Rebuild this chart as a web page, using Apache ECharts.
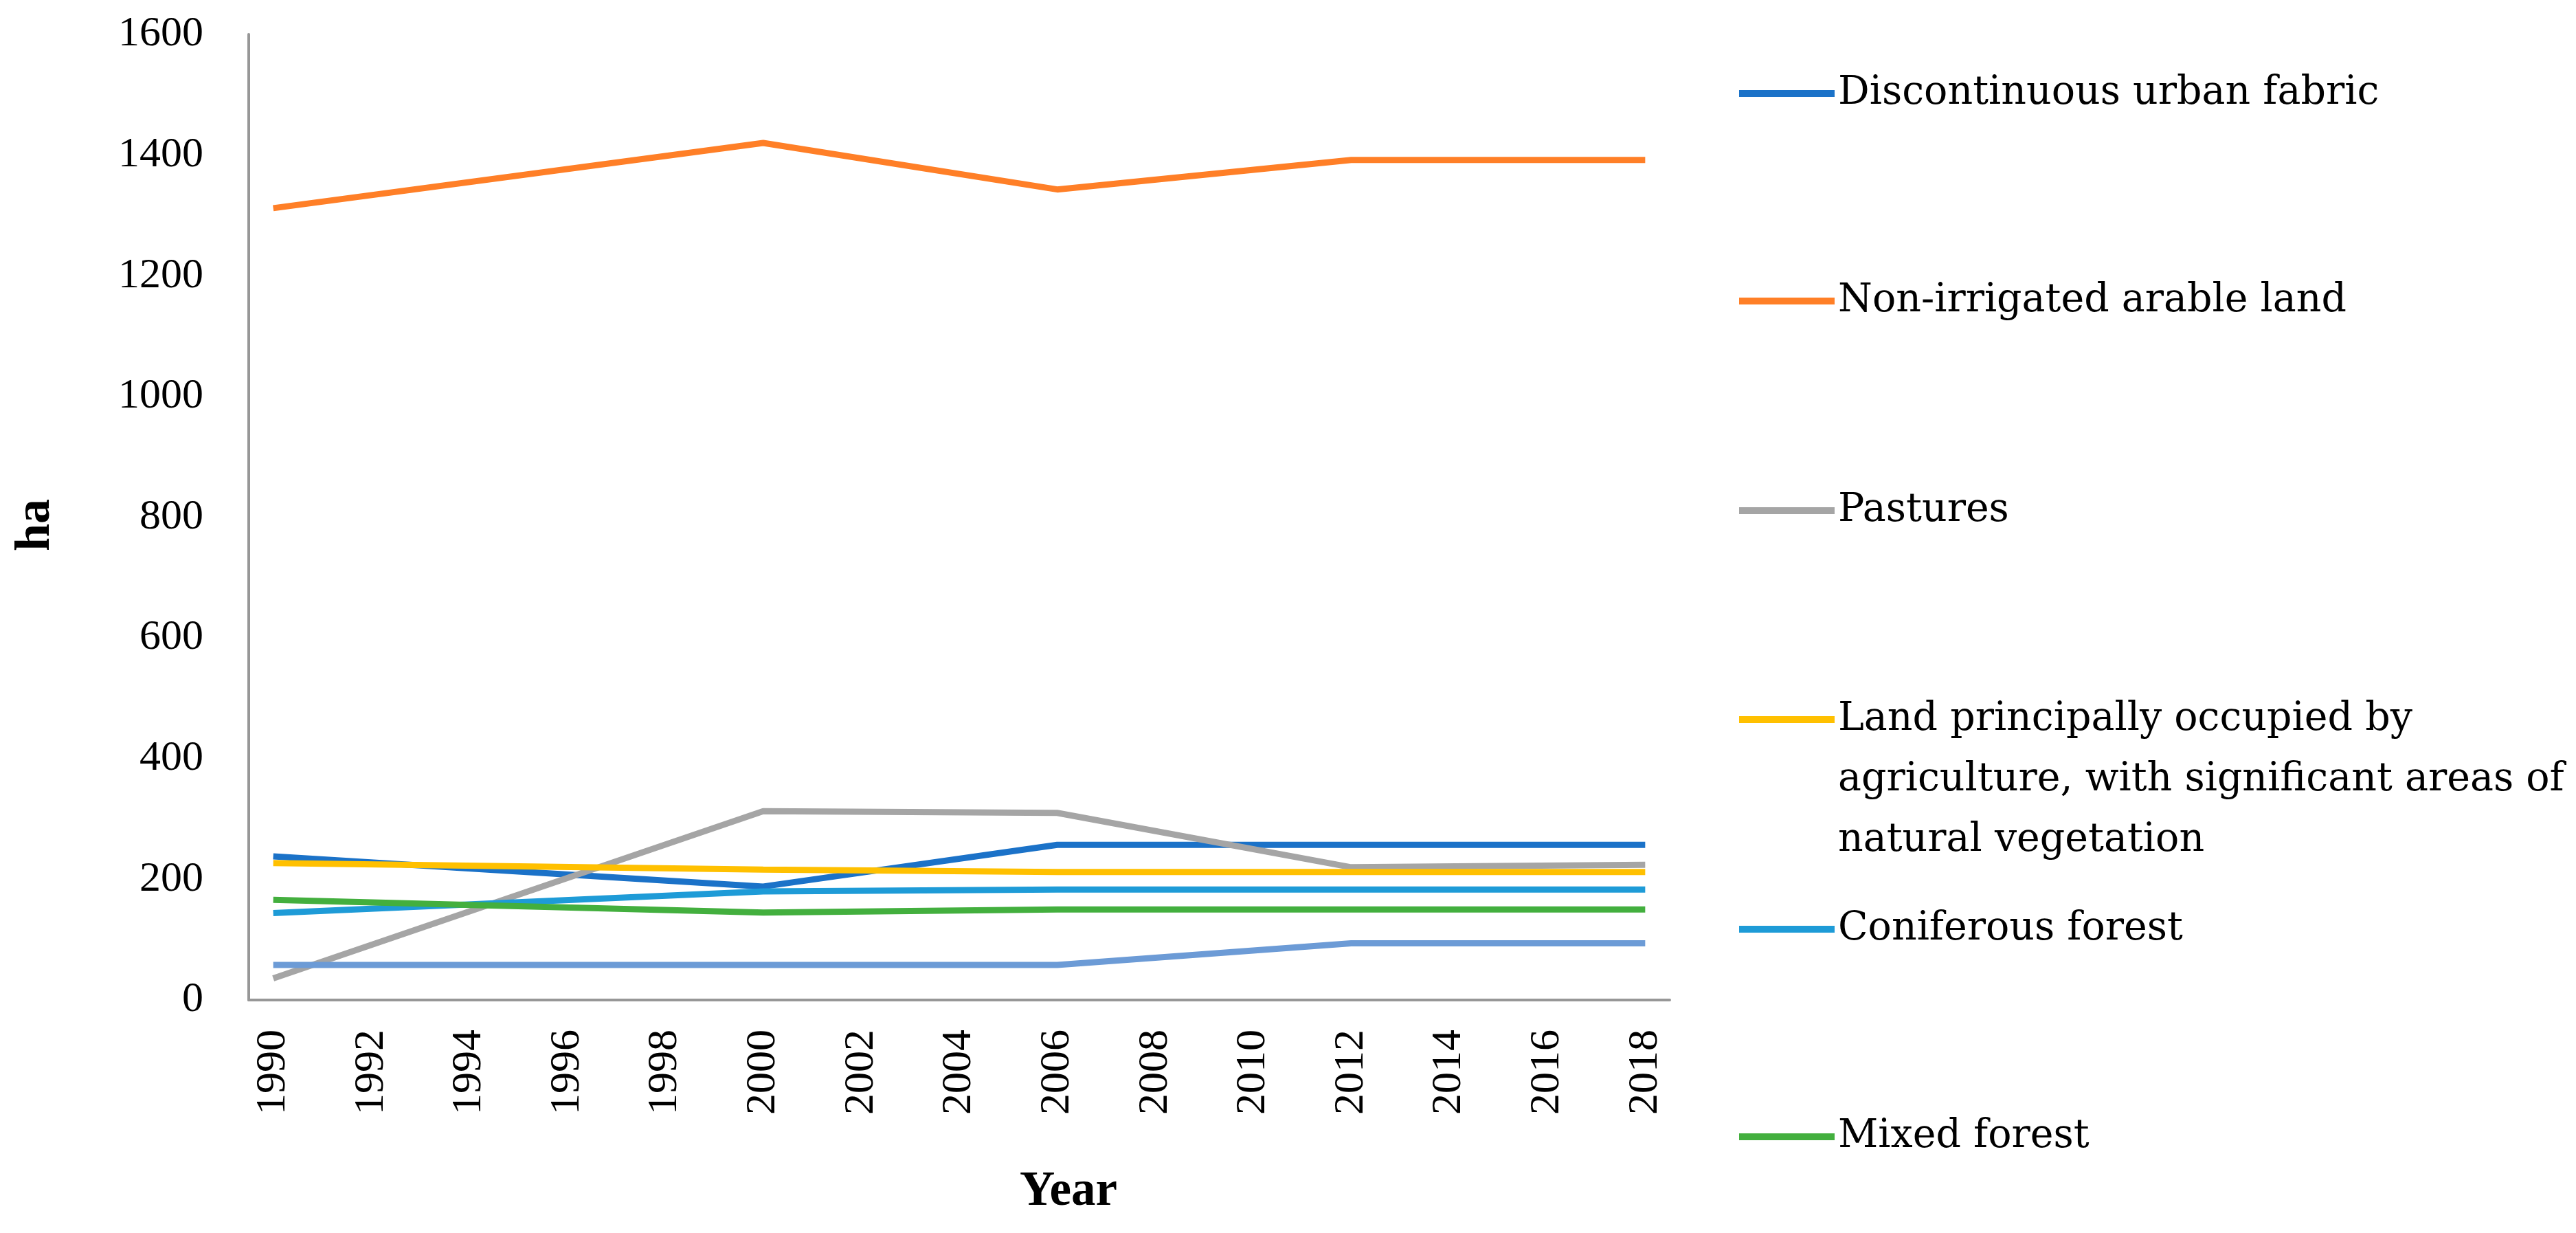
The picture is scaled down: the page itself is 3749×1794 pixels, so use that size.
<!DOCTYPE html>
<html>
<head>
<meta charset="utf-8">
<script src="https://cdn.jsdelivr.net/npm/echarts@6/dist/echarts.min.js"></script>
<style>
html,body{margin:0;padding:0;background:#fff;}
#chart{width:3749px;height:1794px;}
</style>
</head>
<body>
<div id="chart"></div>
<script>
// ---- Data ----
const categories = ['1990','1991','1992','1993','1994','1995','1996','1997','1998','1999','2000','2001','2002','2003','2004','2005','2006','2007','2008','2009','2010','2011','2012','2013','2014','2015','2016','2017','2018'];
const obsYears = ['1990','2000','2006','2012','2018'];
const seriesNames = [
  'Discontinuous urban fabric',
  'Non-irrigated arable land',
  'Pastures',
  'Land principally occupied by agriculture, with significant areas of natural vegetation',
  'Coniferous forest',
  'Mixed forest',
  'Transitional woodland-shrub'
];
const urbanFabric   = [238, 188, 257, 257, 257];
const arableLand    = [1312, 1420, 1343, 1392, 1392];
const pastures      = [36, 313, 310, 220, 224];
const agriNatural   = [227, 216, 212, 212, 212];
const coniferous    = [144, 180, 183, 183, 183];
const mixedForest   = [166, 145, 150, 150, 150];
const seventhSeries = [58, 58, 58, 94, 94];
const yTicks = {min: 0, max: 1600, interval: 200};
const yAxisTitle = 'ha';
const xAxisTitle = 'Year';

const seriesValues = [urbanFabric, arableLand, pastures, agriNatural, coniferous, mixedForest, seventhSeries];
const colors = ['#1B72C8', '#FF7F27', '#A5A5A5', '#FFC000', '#1E9BD7', '#43AF3E', '#6C9BD6'];

const legendWrapped = {
  'Land principally occupied by agriculture, with significant areas of natural vegetation':
    'Land principally occupied by\nagriculture, with significant areas of\nnatural vegetation'
};

const chart = echarts.init(document.getElementById('chart'), null, {renderer: 'canvas'});

const legendCenters = [134, 436, 741, 1045, 1350, 1652];
const LH = 88;
const legends = seriesNames.slice(0, 6).map((n, i) => {
  const wrapped = legendWrapped[n];
  const lines = wrapped ? wrapped.split('\n').length : 1;
  // leading blank lines so the first text line sits on the symbol
  const totalLines = lines + (lines - 1);
  const half = totalLines * LH / 2;
  return {
    data: [n],
    orient: 'vertical',
    left: 2526,
    top: legendCenters[i] - half - 3,
    icon: 'rect',
    itemWidth: 139,
    itemHeight: 10,
    selectedMode: false,
    formatter: (name) => {
      const w = legendWrapped[name];
      if (!w) return name;
      const k = w.split('\n').length - 1;
      return '\n'.repeat(k) + w;
    },
    textStyle: {
      fontFamily: 'DejaVu Serif',
      fontSize: 57,
      color: '#000',
      lineHeight: LH
    }
  };
});

const option = {
  backgroundColor: '#ffffff',
  animation: false,
  color: colors,
  grid: {left: 362, right: 1319, top: 50, bottom: 339, containLabel: false},
  legend: legends,
  xAxis: {
    type: 'category',
    data: categories,
    boundaryGap: true,
    axisLine: {show: true, lineStyle: {color: '#979797', width: 4}},
    axisTick: {show: false},
    splitLine: {show: false},
    axisLabel: {
      interval: 1,
      rotate: 90,
      margin: 43,
      color: '#000',
      fontFamily: 'Liberation Serif',
      fontSize: 62
    }
  },
  yAxis: {
    type: 'value',
    min: yTicks.min,
    max: yTicks.max,
    interval: yTicks.interval,
    axisLine: {show: true, lineStyle: {color: '#979797', width: 4}},
    axisTick: {show: false},
    splitLine: {show: false},
    axisLabel: {
      margin: 66,
      color: '#000',
      fontFamily: 'Liberation Serif',
      fontSize: 62,
      formatter: (v) => String(v)
    }
  },
  graphic: [{
    type: 'text',
    x: 1555,
    y: 1735,
    style: {
      text: xAxisTitle,
      font: 'bold 71px "Liberation Serif"',
      fill: '#000',
      textAlign: 'center',
      textVerticalAlign: 'middle',
      align: 'center',
      verticalAlign: 'middle'
    }
  }, {
    type: 'text',
    x: 52,
    y: 764,
    rotation: Math.PI / 2,
    style: {
      text: yAxisTitle,
      font: 'bold 72px "Liberation Serif"',
      fill: '#000',
      textAlign: 'center',
      textVerticalAlign: 'middle',
      align: 'center',
      verticalAlign: 'middle'
    }
  }],
  series: seriesNames.map((n, i) => ({
    name: n,
    type: 'line',
    data: obsYears.map((y, k) => [y, seriesValues[i][k]]),
    showSymbol: false,
    symbol: 'none',
    lineStyle: {width: 9, color: colors[i]},
    itemStyle: {color: colors[i]},
    emphasis: {disabled: true},
    z: 2
  }))
};

chart.setOption(option);
</script>
</body>
</html>
